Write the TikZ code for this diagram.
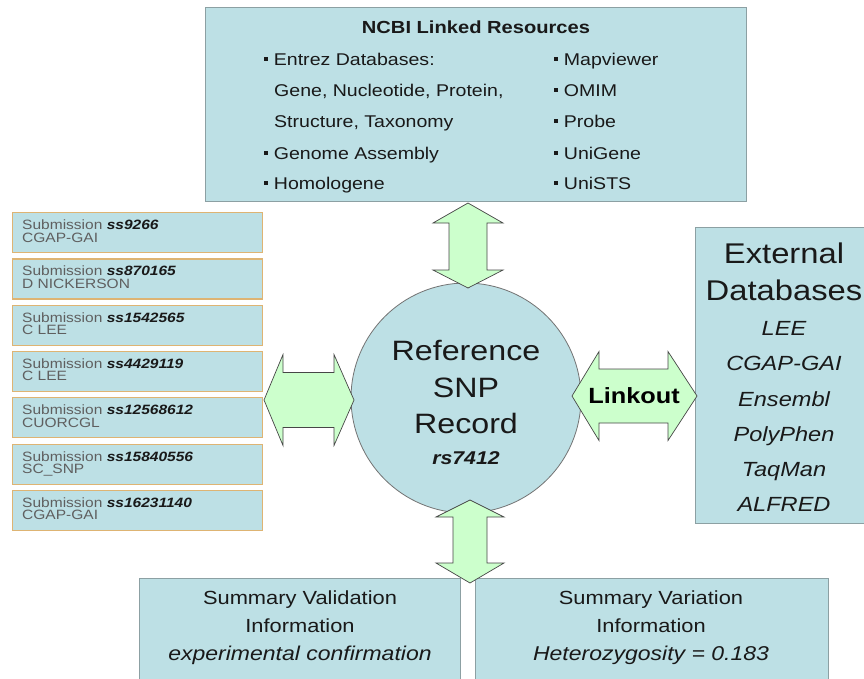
\documentclass[tikz,border=0pt]{standalone}
\usepackage{fontspec}
\setmainfont{Liberation Sans}[FakeStretch=1.15]
\definecolor{boxblue}{RGB}{189,224,229}
\definecolor{boxline}{RGB}{140,160,163}
\definecolor{arrgreen}{RGB}{204,255,204}
\definecolor{arrline}{RGB}{70,70,70}
\definecolor{subline}{RGB}{222,180,115}
\definecolor{subgray}{RGB}{95,95,95}
\definecolor{txtdark}{RGB}{25,25,25}
\newcommand\mybul{\rule[0.25em]{3.7pt}{3.7pt}\hspace{6pt}}
\newcommand\myvarrow[7]{\draw[blockarrow] (#1,#2) -- ({#1+#6},#3) -- ({#1+#7},#3) -- ({#1+#7},#4) -- ({#1+#6},#4) -- (#1,#5) -- ({#1-#6},#4) -- ({#1-#7},#4) -- ({#1-#7},#3) -- ({#1-#6},#3) -- cycle;}
\newcommand\myharrow[7]{\draw[blockarrow] (#2,#1) -- (#3,{#1-#6}) -- (#3,{#1-#7}) -- (#4,{#1-#7}) -- (#4,{#1-#6}) -- (#5,#1) -- (#4,{#1+#6}) -- (#4,{#1+#7}) -- (#3,{#1+#7}) -- (#3,{#1+#6}) -- cycle;}
\begin{document}
\begin{tikzpicture}[x=1pt,y=-1pt,
  bluebox/.style={rectangle, fill=boxblue, draw=boxline, line width=0.9pt, inner sep=0pt, anchor=north west},
  subbox/.style={rectangle, fill=boxblue, draw=subline, line width=1.2pt, inner sep=0pt, anchor=north west, minimum width=250, minimum height=40},
  blockarrow/.style={fill=arrgreen, draw=arrline, line width=0.7pt, line join=miter},
  txt/.style={inner sep=0pt, anchor=base, text=txtdark},
  itm/.style={inner sep=0pt, anchor=base west, text=txtdark, font=\fontsize{17}{20}\selectfont},
  subt/.style={inner sep=0pt, anchor=base west, text=subgray, font=\fontsize{13.5}{15}\selectfont}]
\useasboundingbox (0,0) rectangle (864,678);

% boxes
\node[bluebox, minimum width=541, minimum height=194] (ncbi) at (205,7) {};
\node[bluebox, minimum width=185, minimum height=296] (ext) at (695,227) {};
\node[bluebox, minimum width=321, minimum height=120] (valid) at (139,578) {};
\node[bluebox, minimum width=353, minimum height=120] (vari) at (475,578) {};
\node[circle, fill=boxblue, draw=gray!90!black, line width=0.8pt, minimum size=230, inner sep=0pt] (rec) at (466,398) {};

% submission boxes
\foreach \id/\nm [count=\i] in {9266/CGAP-GAI, 870165/D NICKERSON, 1542565/C LEE, 4429119/C LEE, 12568612/CUORCGL, 15840556/SC\_SNP, 16231140/CGAP-GAI}{
  \node[subbox] (sub\i) at (12,{212+46.3*(\i-1)}) {};
  \node[subt] (subl\i) at (22,{212+46.3*(\i-1)+17.5}) {Submission \textcolor{txtdark}{\bfseries\itshape ss\id}};
  \node[subt] (subn\i) at (22,{212+46.3*(\i-1)+30}) {\nm};
}

% block arrows
\myvarrow{468}{203}{223}{270}{288}{35}{19}
\myvarrow{470}{500}{517}{563}{583}{34}{17}
\myharrow{400}{264}{283}{334}{354}{45.5}{27.5}
\myharrow{396}{572}{599}{668}{697}{44.5}{27}

% NCBI texts
\node[txt, font=\bfseries\fontsize{17.5}{20}\selectfont] (ncbit) at (476,33.3) {NCBI Linked Resources};
\node[itm] (l1) at (264,65) {\mybul Entrez Databases:};
\node[itm] (l2) at (274,96) {Gene, Nucleotide, Protein,};
\node[itm] (l3) at (274,127) {Structure, Taxonomy};
\node[itm] (l4) at (264,159) {\mybul Genome Assembly};
\node[itm] (l5) at (264,189) {\mybul Homologene};
\node[itm] (r1) at (554,65) {\mybul Mapviewer};
\node[itm] (r2) at (554,96) {\mybul OMIM};
\node[itm] (r3) at (554,127) {\mybul Probe};
\node[itm] (r4) at (554,159) {\mybul UniGene};
\node[itm] (r5) at (554,189) {\mybul UniSTS};

% circle text
\node[txt, font=\fontsize{28}{32}\selectfont] (rect1) at (466,360) {Reference};
\node[txt, font=\fontsize{28}{32}\selectfont] (rect2) at (466,397) {SNP};
\node[txt, font=\fontsize{28}{32}\selectfont] (rect3) at (466,433) {Record};
\node[txt, font=\bfseries\itshape\fontsize{18.5}{22}\selectfont] (rect4) at (466,464.7) {rs7412};

% linkout
\node[txt, font=\bfseries\fontsize{22}{26}\selectfont, text=black] (link) at (634,403.4) {Linkout};

% external
\node[txt, font=\fontsize{28.5}{32}\selectfont] (extt1) at (784,263.3) {External};
\node[txt, font=\fontsize{28.5}{32}\selectfont] (extt2) at (784,300.3) {Databases};
\foreach \t [count=\i] in {LEE, CGAP-GAI, Ensembl, PolyPhen, TaqMan, ALFRED}{
  \node[txt, font=\itshape\fontsize{20.5}{24}\selectfont] (exti\i) at (784,{328+35.3*(\i-1)+7.4}) {\t};
}

% bottom
\node[txt, font=\fontsize{19}{22}\selectfont] (va1) at (300,604.8) {Summary Validation};
\node[txt, font=\fontsize{19}{22}\selectfont] (va2) at (300,632.8) {Information};
\node[txt, font=\itshape\fontsize{20}{24}\selectfont] (va3) at (300,660.2) {experimental confirmation};
\node[txt, font=\fontsize{19}{22}\selectfont] (vr1) at (651,604.8) {Summary Variation};
\node[txt, font=\fontsize{19}{22}\selectfont] (vr2) at (651,632.8) {Information};
\node[txt, font=\itshape\fontsize{20}{24}\selectfont] (vr3) at (651,660.2) {Heterozygosity = 0.183};
\end{tikzpicture}
\end{document}
